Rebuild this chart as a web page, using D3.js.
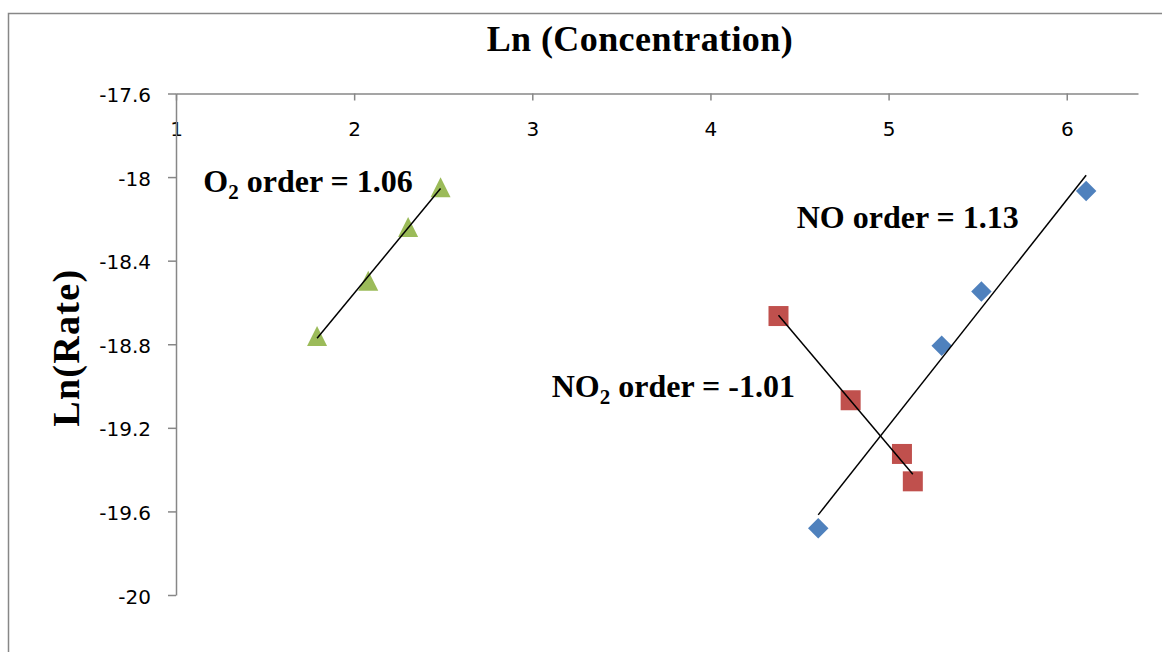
<!DOCTYPE html>
<html>
<head>
<meta charset="utf-8">
<script src="https://cdn.jsdelivr.net/npm/d3@7"></script>
<style>
  html, body { margin: 0; padding: 0; background: #ffffff; }
  svg { display: block; }
</style>
</head>
<body>
<svg id="chart" width="1162" height="652"></svg>
<script>
// Ln(Rate) against Ln(Concentration) for each reactant
const noX  = [4.605, 5.298, 5.521, 6.109];
const noY  = [-19.680, -18.807, -18.548, -18.067];
const no2X = [4.382, 4.787, 5.075, 5.136];
const no2Y = [-18.665, -19.068, -19.325, -19.456];
const o2X  = [1.792, 2.079, 2.303, 2.485];
const o2Y  = [-18.760, -18.496, -18.239, -18.049];

const xTicks = [1, 2, 3, 4, 5, 6];
const xTickLabels = ["1", "2", "3", "4", "5", "6"];
const yTicks = [-20, -19.6, -19.2, -18.8, -18.4, -18, -17.6];
const yTickLabels = ["-20", "-19.6", "-19.2", "-18.8", "-18.4", "-18", "-17.6"];

const chartTitle = "Ln (Concentration)";
const yTitle = "Ln(Rate)";
const orderLabels = [
  { species: "NO",  sub: "",  text: " order = 1.13" },
  { species: "NO",  sub: "2", text: " order = -1.01" },
  { species: "O",   sub: "2", text: " order = 1.06" }
];

const svg = d3.select("#chart");
const W = 1162, H = 652;
const serif = "'Liberation Serif', 'Times New Roman', serif";
const sans = "'DejaVu Sans', sans-serif";
const axisGrey = "#878787";

svg.append("rect").attr("width", W).attr("height", H).attr("fill", "#ffffff");

// chart area frame (runs off the right and bottom edges)
svg.append("rect")
  .attr("x", 8.5).attr("y", 13.5)
  .attr("width", 1300).attr("height", 800)
  .attr("fill", "none").attr("stroke", axisGrey).attr("stroke-width", 1.5);

const x = d3.scaleLinear().domain([1, 6.4]).range([176, 1138]);
const y = d3.scaleLinear().domain([-20, -17.6]).range([595, 93.5]);

// horizontal axis sits at the top of the plot (crosses at the maximum of y)
const gx = svg.append("g").attr("transform", `translate(0,${y(-17.6)})`)
  .call(d3.axisBottom(x).tickValues(xTicks)
    .tickFormat((d, i) => xTickLabels[i]).tickSize(7).tickSizeOuter(0));
gx.select(".domain").attr("stroke", axisGrey).attr("stroke-width", 1.5);
gx.selectAll(".tick line").attr("stroke", axisGrey).attr("stroke-width", 1.5);
gx.selectAll(".tick text")
  .attr("y", 42).attr("dy", null)
  .attr("fill", "#000").style("font-family", sans).style("font-size", "20px");

const gy = svg.append("g").attr("transform", `translate(${x(1)},0)`)
  .call(d3.axisLeft(y).tickValues(yTicks)
    .tickFormat((d, i) => yTickLabels[i]).tickSize(8).tickPadding(17).tickSizeOuter(0));
gy.select(".domain").attr("stroke", axisGrey).attr("stroke-width", 1.5);
gy.selectAll(".tick line").attr("stroke", axisGrey).attr("stroke-width", 1.5);
gy.selectAll(".tick text")
  .attr("dy", "0.4em")
  .attr("fill", "#000").style("font-family", sans).style("font-size", "20px");

// titles
svg.append("text")
  .attr("x", 639.7).attr("y", 51)
  .attr("text-anchor", "middle")
  .attr("textLength", 306).attr("lengthAdjust", "spacing")
  .style("font-family", serif).style("font-weight", "bold").style("font-size", "36px")
  .text(chartTitle);

svg.append("text")
  .attr("transform", "translate(79,348.3) rotate(-90)")
  .attr("text-anchor", "middle")
  .attr("textLength", 157).attr("lengthAdjust", "spacing")
  .style("font-family", serif).style("font-weight", "bold").style("font-size", "38px")
  .text(yTitle);

// marker shapes
const diamond = {
  draw(ctx, size) {
    const r = Math.sqrt(size) / 2;
    ctx.moveTo(0, -r); ctx.lineTo(r, 0); ctx.lineTo(0, r); ctx.lineTo(-r, 0); ctx.closePath();
  }
};
const square = {
  draw(ctx, size) {
    const r = Math.sqrt(size) / 2;
    ctx.rect(-r, -r, 2 * r, 2 * r);
  }
};
const triangle = {
  draw(ctx, size) {
    const r = Math.sqrt(size) / 2;
    ctx.moveTo(0, -r); ctx.lineTo(r, r); ctx.lineTo(-r, r); ctx.closePath();
  }
};

const series = [
  { xs: noX,  ys: noY,  color: "#4F81BD", shape: diamond,  size: 420 },
  { xs: no2X, ys: no2Y, color: "#C0504D", shape: square,   size: 400 },
  { xs: o2X,  ys: o2Y,  color: "#9BBB59", shape: triangle, size: 400 }
];

// least-squares trend line over the span of each series
function fit(xs, ys) {
  const mx = d3.mean(xs), my = d3.mean(ys);
  const sxy = d3.sum(xs, (v, i) => (v - mx) * (ys[i] - my));
  const sxx = d3.sum(xs, v => (v - mx) * (v - mx));
  const m = sxy / sxx, b = my - m * mx;
  const [x0, x1] = d3.extent(xs);
  return [[x0, m * x0 + b], [x1, m * x1 + b]];
}

series.forEach(s => {
  svg.append("g").selectAll("path")
    .data(s.xs.map((v, i) => [v, s.ys[i]]))
    .join("path")
    .attr("transform", d => `translate(${x(d[0])},${y(d[1])})`)
    .attr("d", d3.symbol(s.shape, s.size))
    .attr("fill", s.color);
});

const line = d3.line().x(d => x(d[0])).y(d => y(d[1]));
series.forEach(s => {
  svg.append("path")
    .attr("d", line(fit(s.xs, s.ys)))
    .attr("fill", "none").attr("stroke", "#000").attr("stroke-width", 1.5);
});

// reaction order annotations
const labelPos = [[796.7, 228.3], [551.7, 396.7], [203.3, 191.7]];
orderLabels.forEach((l, i) => {
  const t = svg.append("text")
    .attr("x", labelPos[i][0]).attr("y", labelPos[i][1])
    .style("font-family", serif).style("font-weight", "bold").style("font-size", "32px");
  t.append("tspan").text(l.species);
  if (l.sub) {
    t.append("tspan").attr("dy", 7).style("font-size", "21px").text(l.sub);
    t.append("tspan").attr("dy", -7).text(l.text);
  } else {
    t.append("tspan").text(l.text);
  }
});
</script>
</body>
</html>
